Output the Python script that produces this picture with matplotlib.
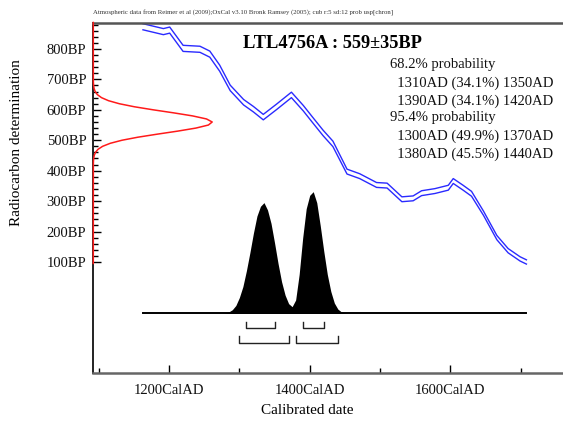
import matplotlib
matplotlib.use("Agg")
import matplotlib.pyplot as plt
import numpy as np

plt.rcParams['font.family'] = ['Liberation Serif', 'DejaVu Serif']

# ---------------- data ----------------
header = ("Atmospheric data from Reimer et al (2009);OxCal v3.10 Bronk Ramsey (2005); "
          "cub r:5 sd:12 prob usp[chron]")
title = "LTL4756A : 559\u00b135BP"
prob_lines = ["68.2% probability",
              "  1310AD (34.1%) 1350AD",
              "  1390AD (34.1%) 1420AD",
              "95.4% probability",
              "  1300AD (49.9%) 1370AD",
              "  1380AD (45.5%) 1440AD"]

# calibration curve (midline and 1-sigma half width), BP
cal_years = [1163, 1192, 1201, 1220, 1244, 1258, 1272, 1287, 1306, 1320, 1334,
             1353, 1374, 1391, 1403, 1419, 1433, 1453, 1471, 1495, 1510, 1531,
             1547, 1559, 1578, 1597, 1604, 1618, 1630, 1647, 1666, 1682, 1699, 1708]
cal_bp = [873, 857, 862, 802, 799, 783, 737, 672, 625, 602, 576,
          610, 649, 605, 570, 524, 488, 397, 382, 353, 351, 306,
          309, 326, 333, 344, 366, 344, 324, 260, 180, 137, 110, 100]
cal_err = [10, 10, 10, 10, 10, 10, 10, 9, 9, 9, 9,
           9, 9, 9, 9, 9, 9, 8, 8, 8, 8, 8,
           8, 8, 8, 8, 8, 8, 8, 7, 7, 7, 7, 7]

# radiocarbon measurement distribution (relative height) on BP axis
red_bp = [95, 420, 430, 440, 450, 460, 470, 480, 490, 500, 510, 520, 530, 540,
          550, 560, 570, 580, 590, 600, 610, 620, 630, 640, 650, 660, 670, 680,
          690, 700, 887]
red_h = [0.0, 0.0004, 0.0011, 0.0031, 0.0078, 0.018, 0.039, 0.078, 0.143, 0.241,
         0.375, 0.538, 0.710, 0.863, 0.968, 1.0, 0.952, 0.835, 0.676, 0.504,
         0.346, 0.219, 0.128, 0.069, 0.034, 0.0156, 0.0065, 0.0025, 0.0009,
         0.0003, 0.0]

# calibrated date probability (relative)
post_years = [1163, 1275, 1280, 1285, 1290, 1295, 1300, 1305, 1310, 1315, 1320,
              1325, 1330, 1335, 1340, 1345, 1350, 1355, 1360, 1365, 1370, 1375,
              1380, 1385, 1390, 1395, 1400, 1405, 1410, 1415, 1420, 1425, 1430,
              1435, 1440, 1445, 1450, 1455, 1708]
post_p = [0.0, 0.0, 0.004, 0.012, 0.03, 0.065, 0.13, 0.22, 0.35, 0.50, 0.66,
          0.80, 0.88, 0.91, 0.85, 0.74, 0.58, 0.41, 0.26, 0.15, 0.08, 0.055,
          0.11, 0.32, 0.62, 0.86, 0.97, 1.0, 0.91, 0.72, 0.51, 0.32, 0.18,
          0.085, 0.035, 0.012, 0.004, 0.0, 0.0]

range68 = [(1310, 1350), (1390, 1420)]
range95 = [(1300, 1370), (1380, 1440)]

bp_major = [100, 200, 300, 400, 500, 600, 700, 800]
x_major = [1200, 1400, 1600]
x_minor = [1100, 1300, 1500, 1700]

# ---------------- layout ----------------
XLIM = (1092.4, 1760)
YLIM = (-266, 887)
RED_W = 169          # years for relative height 1
POST_BASE = -69      # BP-axis position of distribution baseline
POST_H = 400         # BP-axis height for relative probability 1
B68_Y, B68_T = -116, -96
B95_Y, B95_T = -167, -143

W, H = 563, 422
fig = plt.figure(figsize=(W / 100, H / 100), dpi=100)
ax = fig.add_axes([93.3 / W, (H - 373.3) / H, 1 - 93.3 / W, (373.3 - 22.5) / H])
ax.set_xlim(*XLIM)
ax.set_ylim(*YLIM)

# calibration curve
cy = np.array(cal_years, float)
cb = np.array(cal_bp, float)
ce = np.array(cal_err, float)
ax.plot(cy, cb + ce, color='#2a2aff', lw=1.0)
ax.plot(cy, cb - ce, color='#2a2aff', lw=1.0)

# measurement distribution
ax.plot(XLIM[0] + np.array(red_h) * RED_W, red_bp, color='#ff1a1a', lw=1.1,
        clip_on=False, zorder=5)

# calibrated distribution
py = np.array(post_years, float)
pp = POST_BASE + np.array(post_p) * POST_H
ax.fill_between(py, POST_BASE, pp, color='black', lw=0)
ax.plot([post_years[0], post_years[-1]], [POST_BASE, POST_BASE], color='black', lw=1.4)

# ranges
for (a, b) in range68:
    ax.plot([a, a, b, b], [B68_T, B68_Y, B68_Y, B68_T], color='#222222', lw=1)
for (a, b) in range95:
    ax.plot([a, a, b, b], [B95_T, B95_Y, B95_Y, B95_T], color='#222222', lw=1)

# spines
ax.spines['right'].set_visible(False)
ax.spines['left'].set_color('#222222')
ax.spines['left'].set_linewidth(1.4)
ax.spines['bottom'].set_color('#666666')
ax.spines['bottom'].set_linewidth(1.8)
ax.spines['top'].set_color('#555555')
ax.spines['top'].set_linewidth(1.8)

# ticks
ax.set_yticks(bp_major)
ax.set_yticklabels([f"{v}BP" for v in bp_major])
ax.set_yticks(list(range(100, 881, 20)), minor=True)
ax.set_xticks(x_major)
ax.set_xticklabels([f"{v}CalAD" for v in x_major])
ax.set_xticks(x_minor, minor=True)
ax.tick_params(axis='both', which='major', direction='in', length=6, width=1,
               color='black', labelsize=10.5, labelcolor='#111111')
ax.tick_params(axis='both', which='minor', direction='in', length=3.5, width=1,
               color='black')
ax.tick_params(axis='y', which='major', pad=5)
ax.tick_params(axis='x', which='major', pad=8)

# texts
fig.text(93 / W, 1 - 13 / H, header, fontsize=4.85, va='center', ha='left',
         color='#333333')
fig.text(332 / W, 1 - 43 / H, title, fontsize=13.2, fontweight='bold',
         ha='center', va='center')
ys = [64.5, 83, 101, 117.5, 136, 154]
for t, y in zip(prob_lines, ys):
    fig.text(390 / W, 1 - y / H, t, fontsize=10.5, ha='left', va='center',
             color='#111111')

fig.text(307 / W, 1 - 411 / H, "Calibrated date", fontsize=11, ha='center',
         va='center')
fig.text(17 / W, 1 - 143 / H, "Radiocarbon determination", fontsize=11,
         ha='center', va='center', rotation=90)

fig.savefig("out.png", dpi=100)
